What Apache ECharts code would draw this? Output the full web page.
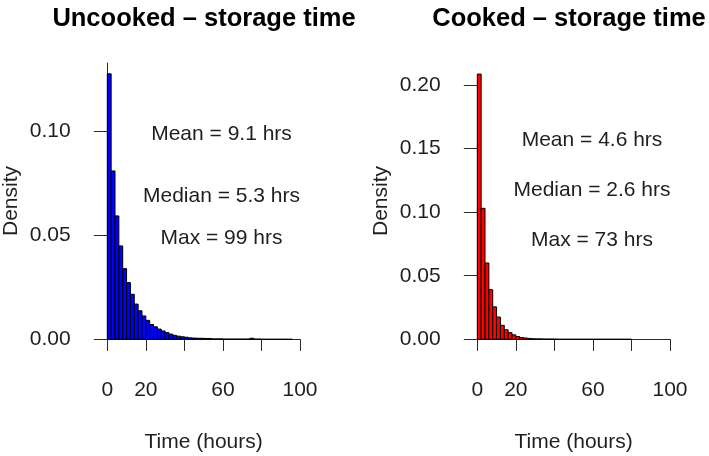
<!DOCTYPE html>
<html>
<head>
<meta charset="utf-8">
<script src="https://cdn.jsdelivr.net/npm/echarts@6/dist/echarts.min.js"></script>
<style>html,body{margin:0;padding:0;background:#fff}#c{width:709px;height:456px}</style>
</head>
<body>
<div id="c"></div>
<script>
// ---- data ----
const binWidth = 2; // hours
const uncookedDensity = [0.1274, 0.0808, 0.0592, 0.0448, 0.0339, 0.0272, 0.0216, 0.0169, 0.0137, 0.0112,
  0.0091, 0.0071, 0.0060, 0.0049, 0.0040, 0.0032, 0.0025, 0.0019, 0.0015, 0.0012,
  0.0010, 0.0007, 0.0006, 0.0005, 0.0005, 0.0004, 0.0004, 0.0002, 0.0002, 0.0002,
  0.0001, 0.0001, 0.0001, 0.0001, 0.0001, 0.0001, 0.0001, 0.0005, 0.0001, 0.0001,
  0, 0, 0, 0, 0, 0, 0, 0];
const cookedDensity = [0.2086, 0.1030, 0.0600, 0.0390, 0.0255, 0.0175, 0.0110, 0.0075, 0.0052, 0.0035,
  0.0022, 0.0014, 0.0010, 0.0007, 0.0004, 0.0003, 0.0003, 0.0002, 0.0002, 0.0002,
  0.0001, 0, 0, 0, 0, 0, 0, 0, 0, 0,
  0, 0, 0, 0, 0, 0, 0, 0, 0, 0];
const titles = ['Uncooked \u2013 storage time', 'Cooked \u2013 storage time'];
const uncookedStats = ['Mean = 9.1 hrs', 'Median = 5.3 hrs', 'Max = 99 hrs'];
const cookedStats = ['Mean = 4.6 hrs', 'Median = 2.6 hrs', 'Max = 73 hrs'];
const xTickValues = [0, 20, 40, 60, 80, 100];
const xLabelValues = [0, 20, 60, 100];
const uncookedYTicks = [0, 0.05, 0.10];
const cookedYTicks = [0, 0.05, 0.10, 0.15, 0.20];
const xName = 'Time (hours)';
const yName = 'Density';

// ---- build ----
function toBins(arr) {
  return arr.map((d, i) => [i * binWidth, (i + 1) * binWidth, d]);
}
const FONT = '"Liberation Sans", Arial, Helvetica, sans-serif';
const TXT = '#1f1f1f';
const AX = '#2a2a2a';

function makeRender(color) {
  return function (params, api) {
    const x0 = api.value(0), x1 = api.value(1), y = api.value(2);
    const p0 = api.coord([x0, y]);
    const p1 = api.coord([x1, 0]);
    return {
      type: 'rect',
      shape: { x: p0[0], y: p0[1], width: p1[0] - p0[0], height: p1[1] - p0[1] },
      style: { fill: color, stroke: '#000', lineWidth: 1 }
    };
  };
}

function xAxisCfg(gi) {
  return {
    gridIndex: gi, type: 'value', min: 0, max: 100, offset: 12.4,
    axisLine: { show: true, lineStyle: { color: AX, width: 1 } },
    axisTick: { show: true, inside: false, length: 11.6, customValues: xTickValues, lineStyle: { color: AX, width: 1 } },
    axisLabel: { show: true, customValues: xLabelValues, margin: 28, fontSize: 21, fontFamily: FONT, color: TXT },
    splitLine: { show: false },
    name: xName, nameLocation: 'middle', nameGap: 80,
    nameTextStyle: { fontSize: 21, fontFamily: FONT, color: TXT }
  };
}
function yAxisCfg(gi, max, ticks) {
  return {
    gridIndex: gi, type: 'value', min: 0, max: max, offset: 8.3,
    axisLine: { show: true, lineStyle: { color: AX, width: 1 } },
    axisTick: { show: true, inside: false, length: 13.5, customValues: ticks, lineStyle: { color: AX, width: 1 } },
    axisLabel: { show: true, customValues: ticks, margin: 28.3, fontSize: 21, fontFamily: FONT, color: TXT,
      formatter: v => v.toFixed(2) },
    splitLine: { show: false }
  };
}

function statTexts(lines, cx, ys) {
  return lines.map((t, i) => ({
    type: 'text', x: cx, y: ys[i],
    style: { text: t, fontSize: 21, fontFamily: FONT, fill: TXT,
      textAlign: 'center', align: 'center', textVerticalAlign: 'middle', verticalAlign: 'middle' }
  }));
}
function yNameText(cx, cy) {
  return {
    type: 'text', x: cx, y: cy, rotation: Math.PI / 2,
    style: { text: yName, fontSize: 21, fontFamily: FONT, fill: TXT,
      textAlign: 'center', align: 'center', textVerticalAlign: 'middle', verticalAlign: 'middle' }
  };
}

const chart = echarts.init(document.getElementById('c'), null, { renderer: 'canvas' });
chart.setOption({
  animation: false,
  backgroundColor: '#fff',
  title: [
    { text: titles[0], left: 199, top: 1, textAlign: 'center',
      textStyle: { fontSize: 25.5, fontWeight: 'bold', fontFamily: FONT, color: '#000' } },
    { text: titles[1], left: 564, top: 1, textAlign: 'center',
      textStyle: { fontSize: 25.5, fontWeight: 'bold', fontFamily: FONT, color: '#000' } }
  ],
  grid: [
    { left: 107.3, top: 63, width: 192.7, height: 276.3, containLabel: false, outerBoundsMode: 'none' },
    { left: 477.3, top: 85, width: 192.7, height: 254.3, containLabel: false, outerBoundsMode: 'none' }
  ],
  xAxis: [xAxisCfg(0), xAxisCfg(1)],
  yAxis: [yAxisCfg(0, 0.1326, uncookedYTicks), yAxisCfg(1, 0.20, cookedYTicks)],
  series: [
    { type: 'custom', xAxisIndex: 0, yAxisIndex: 0, clip: false, renderItem: makeRender('#0000ff'),
      encode: { x: [0, 1], y: 2 }, data: toBins(uncookedDensity) },
    { type: 'custom', xAxisIndex: 1, yAxisIndex: 1, clip: false, renderItem: makeRender('#ff0000'),
      encode: { x: [0, 1], y: 2 }, data: toBins(cookedDensity) }
  ],
  graphic: [
    ...statTexts(uncookedStats, 221.5, [134, 196, 238]),
    ...statTexts(cookedStats, 592, [140, 190, 240]),
    yNameText(11.5, 201),
    yNameText(381, 201)
  ]
});
</script>
</body>
</html>
